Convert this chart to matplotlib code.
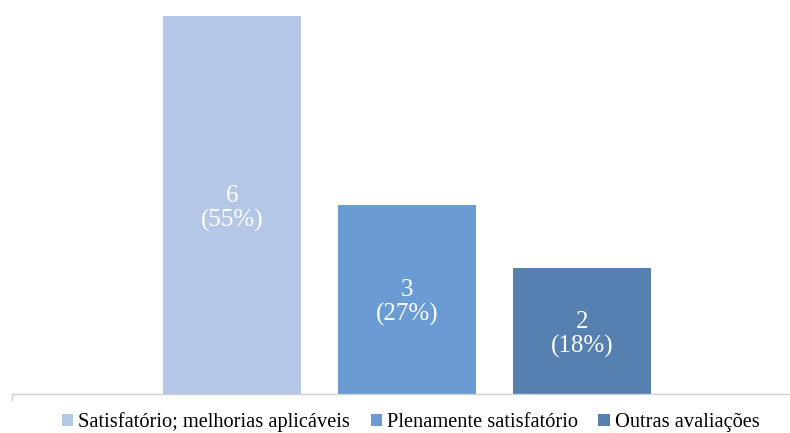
import matplotlib.pyplot as plt

categories = ['Satisfatório; melhorias aplicáveis', 'Plenamente satisfatório', 'Outras avaliações']
counts = [6, 3, 2]
percents = [55, 27, 18]
colors = ['#B4C7E7', '#6A9BD3', '#5580B0']

plt.rcParams['font.family'] = ['Liberation Serif', 'DejaVu Serif']

fig = plt.figure(figsize=(7.9, 4.33), dpi=100)
ax = fig.add_axes([12 / 790, 39 / 433, 778 / 790, 378 / 433])

positions = [0, 1, 2]
for pos, cat, n, pct, col in zip(positions, categories, counts, percents, colors):
    ax.bar(pos, n, width=0.79, color=col, label=cat)
    # count and share, centred in the bar
    ax.text(pos, n / 2 - 0.05, f"{n}\n({pct}%)", ha='center', va='center',
            color='white', fontsize=18, linespacing=1.12)

left, right = -1.257, 3.19
ax.set_xlim(left, right)
ax.set_ylim(0, 6)

for side in ['top', 'right', 'left']:
    ax.spines[side].set_visible(False)
ax.spines['bottom'].set_color('#D0D0D0')
ax.spines['bottom'].set_linewidth(1.0)
ax.set_yticks([])
ax.set_xticks([left, right])
ax.set_xticklabels(['', ''])
ax.tick_params(axis='x', direction='out', length=5, color='#D0D0D0', width=1.0)

fig.legend(loc='center', bbox_to_anchor=(0.52, 10.5 / 433), ncol=3, frameon=False,
           fontsize=14.7, handlelength=0.55, handleheight=0.55, handletextpad=0.25,
           columnspacing=1.0, borderaxespad=0)

fig.savefig('out.png', dpi=100)
